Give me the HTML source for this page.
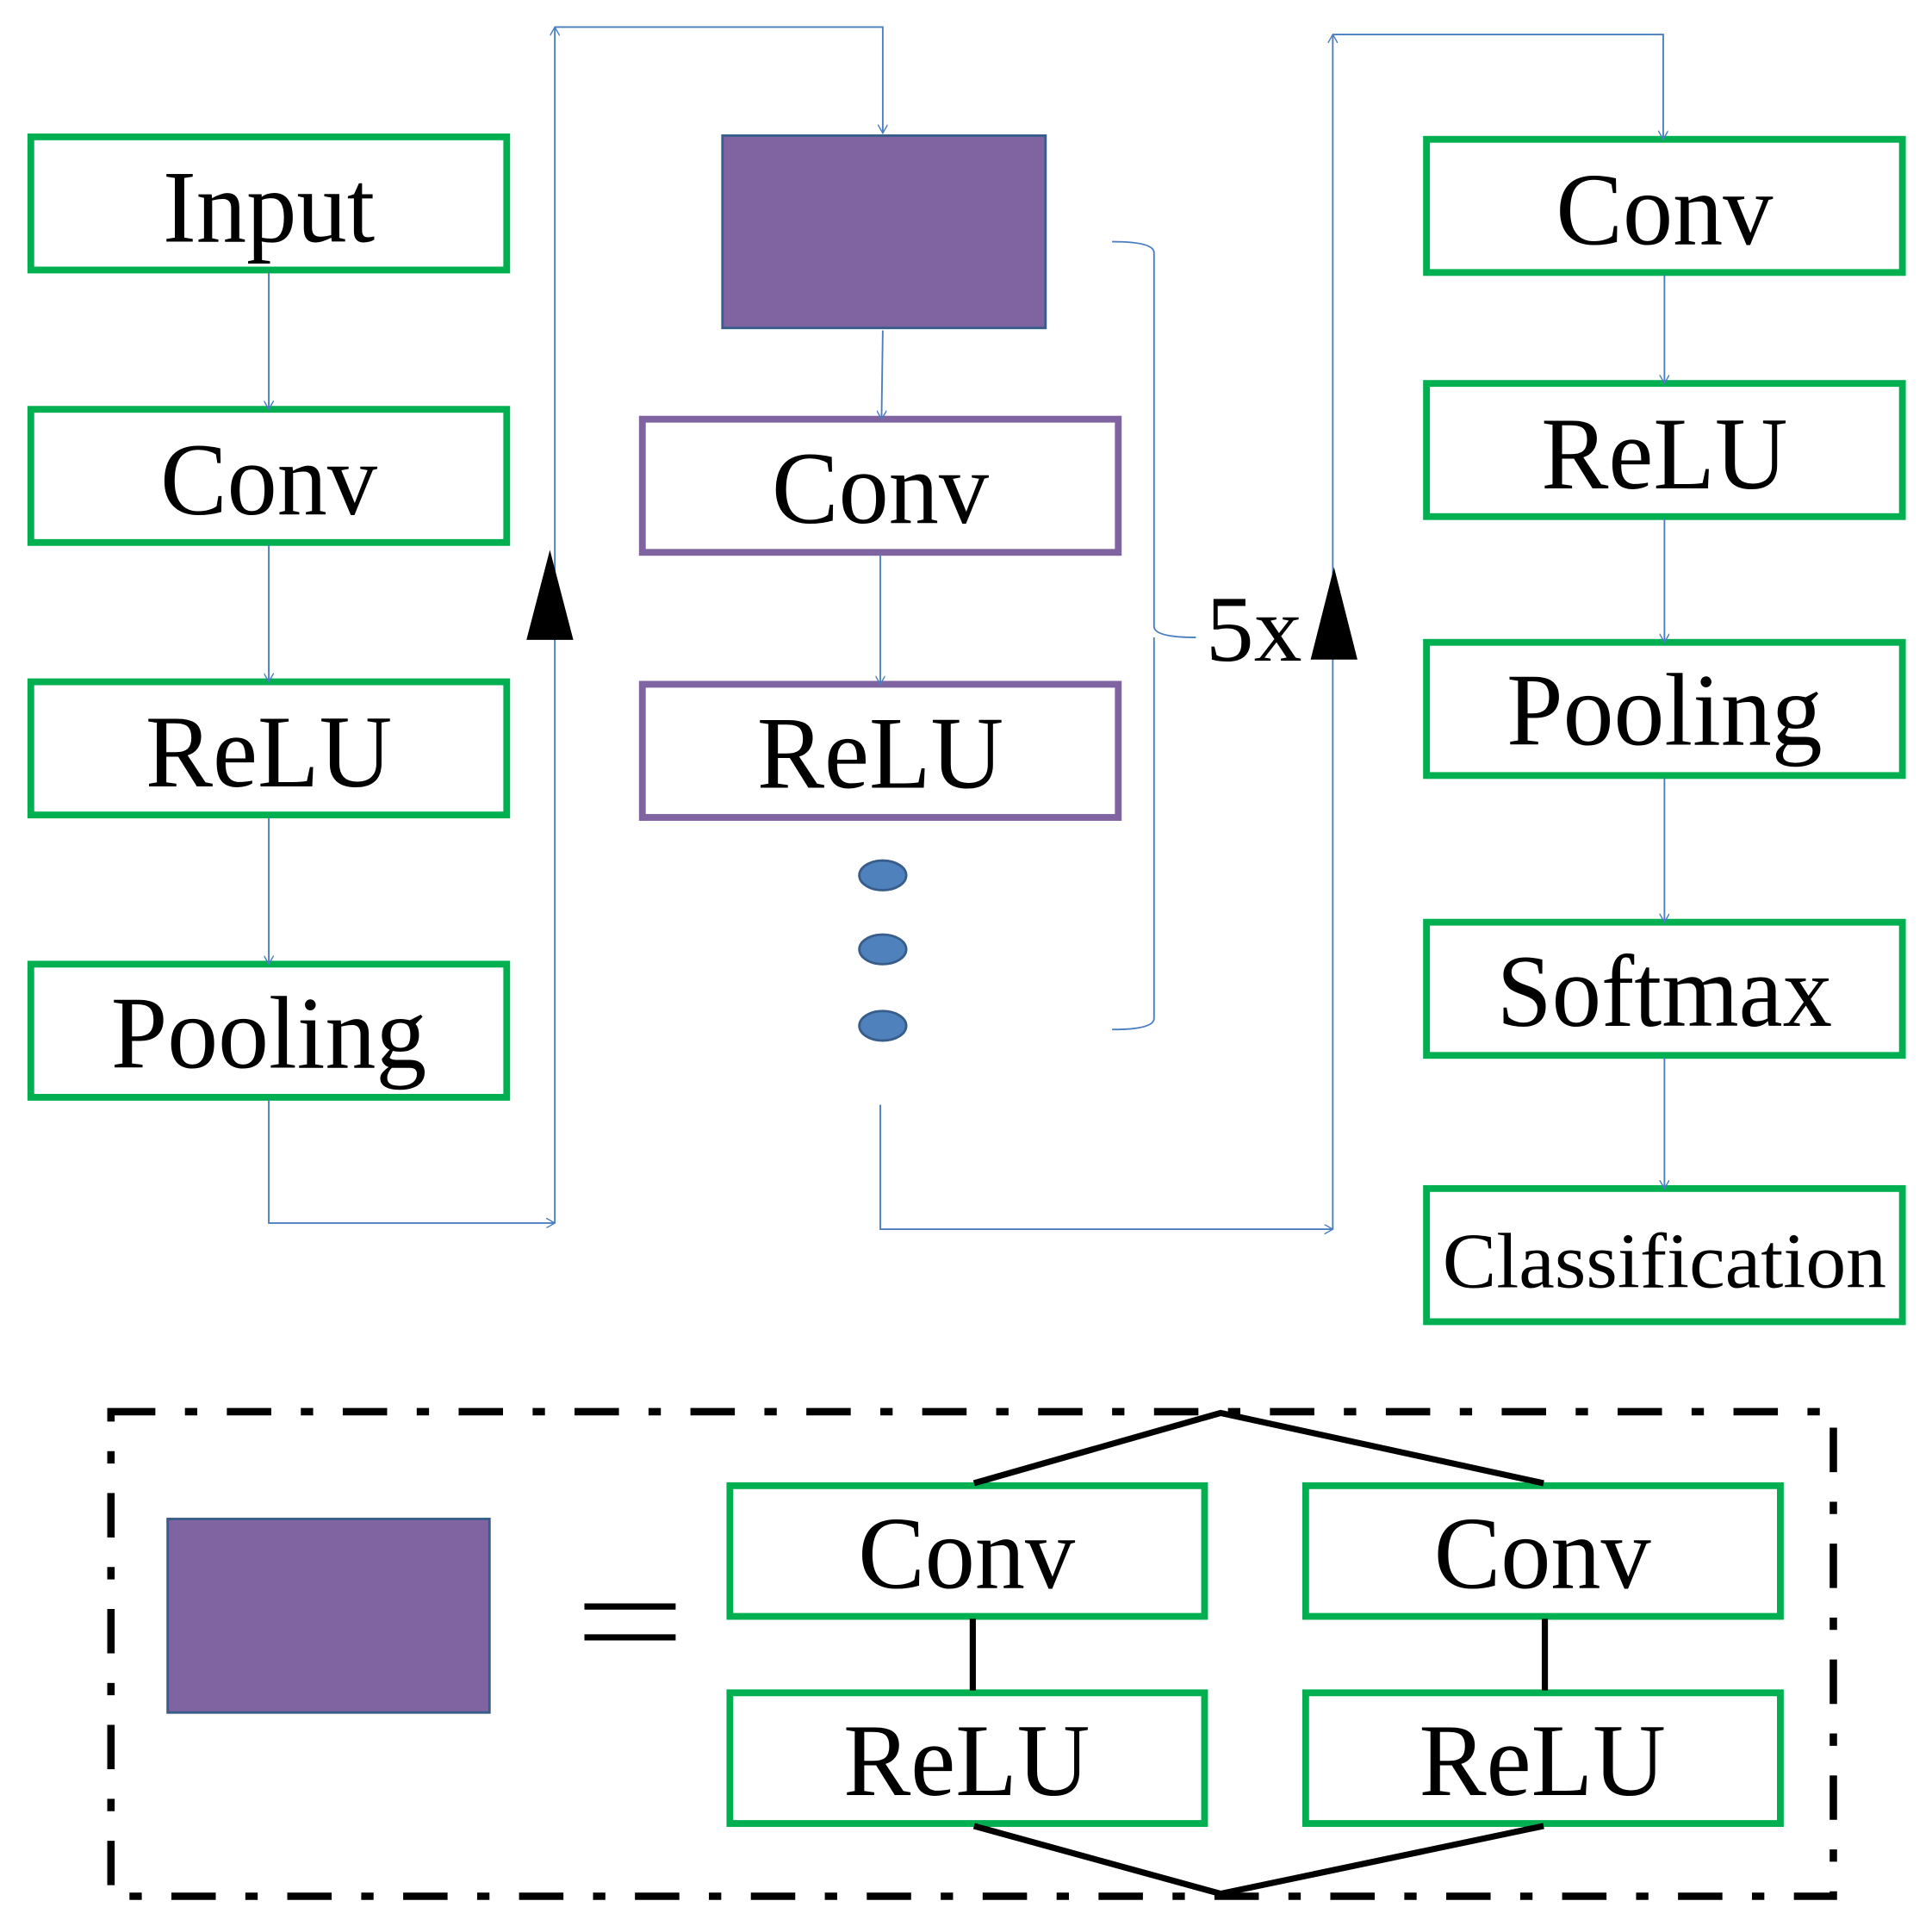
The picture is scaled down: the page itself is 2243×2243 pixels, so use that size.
<!DOCTYPE html>
<html><head><style>html,body{margin:0;padding:0;background:#fff}svg{display:block}</style></head>
<body>
<svg width="2243" height="2243" viewBox="0 0 1567 1567" xmlns="http://www.w3.org/2000/svg" font-family="Liberation Serif, serif">
<defs>
<marker id="a" markerWidth="8" markerHeight="8" refX="7" refY="4" orient="auto" markerUnits="userSpaceOnUse"><path d="M0,0 L7,4 L0,8" fill="none" stroke="#4a7ebf" stroke-width="1"/></marker>
</defs>
<g fill="none" stroke="#00b050" stroke-width="5.5">
<rect x="25" y="111" width="386" height="108"/>
<rect x="25" y="332" width="386" height="108"/>
<rect x="25" y="553" width="386" height="108"/>
<rect x="25" y="782" width="386" height="108"/>
<rect x="1157" y="113" width="386" height="108"/>
<rect x="1157" y="311" width="386" height="108"/>
<rect x="1157" y="521" width="386" height="108"/>
<rect x="1157" y="748" width="386" height="108"/>
<rect x="1157" y="964" width="386" height="108"/>
<rect x="592" y="1205" width="385" height="106"/>
<rect x="1059" y="1205" width="385" height="106"/>
<rect x="592" y="1373" width="385" height="106"/>
<rect x="1059" y="1373" width="385" height="106"/>
</g>
<g fill="none" stroke="#8064a2" stroke-width="5.5">
<rect x="521" y="340" width="386" height="108"/>
<rect x="521" y="555" width="386" height="108"/>
</g>
<rect x="586" y="110" width="262" height="156" fill="#8064a2" stroke="#385d8a" stroke-width="2"/>
<rect x="136" y="1232" width="261" height="157" fill="#8064a2" stroke="#385d8a" stroke-width="2"/>
<g fill="#4f81bd" stroke="#385d8a" stroke-width="2">
<ellipse cx="716" cy="710" rx="19" ry="12"/>
<ellipse cx="716" cy="770" rx="19" ry="12"/>
<ellipse cx="716" cy="832" rx="19" ry="12"/>
</g>
<g fill="none" stroke="#4a7ebf" stroke-width="1.3">
<path d="M218 221 V332" marker-end="url(#a)"/>
<path d="M218 442 V553" marker-end="url(#a)"/>
<path d="M218 663 V782" marker-end="url(#a)"/>
<path d="M218 892 V992 H450" marker-end="url(#a)"/>
<path d="M450 992 V22" marker-end="url(#a)"/>
<path d="M450 22 H716 V108" marker-end="url(#a)"/>
<path d="M716 268 L715 340" marker-end="url(#a)"/>
<path d="M714 450 V555" marker-end="url(#a)"/>
<path d="M714 896 V997 H1081" marker-end="url(#a)"/>
<path d="M1081 997 V28" marker-end="url(#a)"/>
<path d="M1081 28 H1349 V113" marker-end="url(#a)"/>
<path d="M1350 223 V311" marker-end="url(#a)"/>
<path d="M1350 421 V521" marker-end="url(#a)"/>
<path d="M1350 631 V748" marker-end="url(#a)"/>
<path d="M1350 858 V964" marker-end="url(#a)"/>
<path d="M902 196 Q936 196 936 205 V508 Q936 517 970 517 M936 517 Q936 526 936 530 V826 Q936 835 902 835"/>
</g>
<polygon points="446,446 427,519 465,519" fill="#000"/>
<polygon points="1082,460 1063,535 1101,535" fill="#000"/>
<g fill="none" stroke="#000" stroke-width="5">
<path d="M790 1203 L990 1146 L1252 1203"/>
<path d="M790 1481 L990 1536 L1252 1481"/>
<path d="M789 1313 V1371"/>
<path d="M1253 1313 V1371"/>
<path d="M474 1303 H548 M474 1328 H548" stroke-width="5"/>
<rect x="90" y="1145" width="1397" height="393" stroke-width="6" stroke-dasharray="36,24,10,24"/>
</g>
<g font-size="84" text-anchor="middle" fill="#000">
<text x="218" y="196" textLength="172" lengthAdjust="spacingAndGlyphs">Input</text>
<text x="218" y="417" textLength="176" lengthAdjust="spacingAndGlyphs">Conv</text>
<text x="218" y="638" textLength="200" lengthAdjust="spacingAndGlyphs">ReLU</text>
<text x="218" y="866" textLength="256" lengthAdjust="spacingAndGlyphs">Pooling</text>
<text x="714" y="424" textLength="176" lengthAdjust="spacingAndGlyphs">Conv</text>
<text x="714" y="639" textLength="200" lengthAdjust="spacingAndGlyphs">ReLU</text>
<text x="1350" y="198" textLength="176" lengthAdjust="spacingAndGlyphs">Conv</text>
<text x="1350" y="396" textLength="200" lengthAdjust="spacingAndGlyphs">ReLU</text>
<text x="1350" y="604" textLength="256" lengthAdjust="spacingAndGlyphs">Pooling</text>
<text x="1350" y="832" textLength="272" lengthAdjust="spacingAndGlyphs">Softmax</text>
<text x="1350" y="1044" font-size="64" textLength="360" lengthAdjust="spacingAndGlyphs">Classification</text>
<text x="784" y="1288" textLength="176" lengthAdjust="spacingAndGlyphs">Conv</text>
<text x="1251" y="1288" textLength="176" lengthAdjust="spacingAndGlyphs">Conv</text>
<text x="784" y="1456" textLength="200" lengthAdjust="spacingAndGlyphs">ReLU</text>
<text x="1251" y="1456" textLength="200" lengthAdjust="spacingAndGlyphs">ReLU</text>
<text x="1017" y="536" font-size="76" textLength="78" lengthAdjust="spacingAndGlyphs">5x</text>
</g>
</svg>
</body></html>
